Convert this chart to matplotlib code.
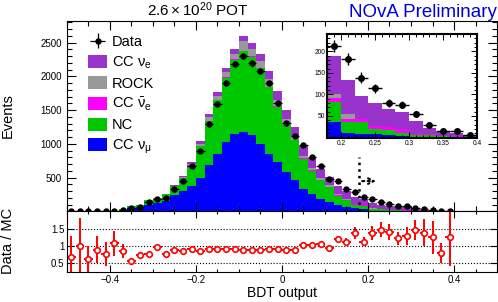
import numpy as np
import matplotlib
matplotlib.use('Agg')
import matplotlib.pyplot as plt
from matplotlib.ticker import MultipleLocator, FixedLocator, FuncFormatter

plt.rcParams['font.family'] = ['Liberation Sans', 'DejaVu Sans']
plt.rcParams['mathtext.fontset'] = 'custom'
plt.rcParams['mathtext.rm'] = 'Liberation Sans'
plt.rcParams['mathtext.it'] = 'Liberation Sans:italic'
plt.rcParams['mathtext.bf'] = 'Liberation Sans:bold'

# ---- data ----
# 45 bins of BDT output, 0.02 wide, from -0.50 to 0.40
bin_edges = np.linspace(-0.50, 0.40, 46)

cc_numu = [1, 1, 2, 2, 3, 4, 12, 45, 50, 89,
           120, 150, 240, 300, 375, 494, 693, 856, 1025, 1153,
           1170, 1128, 1004, 856, 732, 583, 460, 337, 263, 188,
           138, 89, 62, 45, 35, 11, 9, 7, 5, 3,
           2, 2, 1, 1, 0.5]
nc = [2, 1, 3, 4, 4, 4, 20, 35, 40, 78,
      70, 102, 132, 200, 305, 473, 643, 791, 958, 1096,
      1206, 1163, 1115, 988, 817, 698, 599, 442, 341, 276,
      222, 141, 105, 50, 47, 24, 27, 12, 12, 8,
      4, 3, 2, 1, 0.5]
cc_nuebar = [0, 0, 0, 0, 0, 0, 0, 0, 0, 0,
             0, 0, 1, 1, 2, 3, 4, 5, 5, 6,
             6, 6, 6, 6, 6, 6, 6, 6, 6, 6,
             7, 8, 9, 9, 10, 8, 6, 7, 8, 8,
             3, 3, 1, 1, 0.5]
rock = [0, 0, 0, 0, 0, 0, 1, 1, 1, 3,
        4, 5, 8, 14, 28, 30, 60, 63, 70, 75,
        140, 108, 110, 110, 100, 80, 50, 35, 30, 25,
        20, 17, 14, 11, 10, 11, 0, 0, 0, 0,
        0, 0, 0, 0, 0]
cc_nue = [0, 0, 0, 0, 0, 0, 0, 0, 1, 2,
          2, 3, 4, 10, 30, 40, 50, 55, 62, 70,
          78, 85, 100, 115, 125, 133, 140, 145, 145, 135,
          125, 115, 110, 95, 88, 79, 54, 55, 41, 41,
          30, 13, 9, 8, 3.5]
data = [2, 2, 3, 5, 5, 9, 28, 45, 68, 135,
        192, 200, 340, 455, 668, 895, 1288, 1592, 1908, 2186,
        2305, 2192, 2082, 1895, 1607, 1305, 1117, 985, 800, 668,
        488, 444, 340, 288, 212, 182, 139, 114, 80, 76,
        54, 30, 15, 14, 6]
ratio = [0.69, 1.00, 0.63, 0.90, 0.76, 1.08, 0.85, 0.56, 0.73, 0.78,
         0.98, 0.76, 0.88, 0.86, 0.91, 0.87, 0.91, 0.91, 0.91, 0.92,
         0.89, 0.89, 0.90, 0.92, 0.91, 0.88, 0.89, 1.02, 1.02, 1.06,
         0.95, 1.20, 1.13, 1.37, 1.13, 1.39, 1.47, 1.41, 1.22, 1.29,
         1.47, 1.39, 1.25, 0.80, 1.25]
ratio_err = [0.60, 0.80, 0.37, 0.40, 0.35, 0.37, 0.20, 0.05, 0.06, 0.05,
             0.05, 0.04, 0.03, 0.03, 0.03, 0.03, 0.03, 0.03, 0.03, 0.03,
             0.03, 0.03, 0.03, 0.03, 0.03, 0.03, 0.03, 0.03, 0.03, 0.03,
             0.05, 0.08, 0.11, 0.17, 0.12, 0.20, 0.22, 0.22, 0.20, 0.25,
             0.29, 0.40, 0.47, 0.30, 0.84]

cut_value = 0.18      # selection cut drawn as dotted line + arrow
cut_line_top = 800
cut_arrow_y = 450
cut_arrow_end = 0.225

# stacking order, bottom to top
stack = [
    (cc_numu, '#0000ff', r'CC $\mathrm{\nu_\mu}$'),
    (nc, '#00c800', 'NC'),
    (cc_nuebar, '#ff00ff', r'CC $\mathrm{\bar{\nu}_e}$'),
    (rock, '#999999', 'ROCK'),
    (cc_nue, '#9933cc', r'CC $\mathrm{\nu_e}$'),
]

centers = 0.5 * (bin_edges[1:] + bin_edges[:-1])
half_w = 0.5 * np.diff(bin_edges)
data = np.array(data, dtype=float)


def fmt(v, pos):
    s = f'{round(v, 3) + 0.0:g}'
    return s.replace('-', '\u2212')


def draw_stack(ax):
    handles = []
    base = np.zeros(len(centers))
    for vals, col, lab in stack:
        top = base + np.array(vals, dtype=float)
        h = ax.stairs(top, bin_edges, baseline=base, fill=True,
                      color=col, lw=0, label=lab)
        handles.append(h)
        base = top
    return handles


fig = plt.figure(figsize=(4.98, 3.02), dpi=100)
ax = fig.add_axes([0.1345, 0.2997, 0.8635, 0.6308])
ax_r = fig.add_axes([0.1345, 0.0993, 0.8635, 0.2004], sharex=ax)

# ---- main panel ----
hists = draw_stack(ax)
dat = ax.errorbar(centers, data, xerr=half_w, yerr=np.sqrt(data), fmt='o',
                  color='black', ms=3.6, elinewidth=0.9, capsize=0, label='Data')

ax.plot([cut_value, cut_value], [0, cut_line_top], ls=':', color='black', lw=1.8)
ax.annotate('', xy=(cut_arrow_end, cut_arrow_y), xytext=(cut_value, cut_arrow_y),
            arrowprops=dict(arrowstyle='->', ls=':', lw=1.5, color='black'))

ax.set_xlim(-0.5, 0.5)
ax.set_ylim(0, 2820)
ax.yaxis.set_major_locator(FixedLocator([500, 1000, 1500, 2000, 2500]))
ax.yaxis.set_minor_locator(MultipleLocator(100))
ax.xaxis.set_major_locator(MultipleLocator(0.2))
ax.xaxis.set_minor_locator(MultipleLocator(0.05))
ax.tick_params(which='both', direction='in', top=True, right=True, labelsize=7)
ax.tick_params(which='major', length=6.5, width=0.8)
ax.tick_params(which='minor', length=3.5, width=0.8)
ax.tick_params(axis='x', labelbottom=False)

legend_handles = [dat] + hists[::-1]
ax.legend(handles=legend_handles, loc='upper left', bbox_to_anchor=(0.049, 0.927),
          frameon=False, fontsize=10.5, handlelength=1.3, handleheight=1.0,
          labelspacing=0.35, handletextpad=0.35, borderpad=0, borderaxespad=0)

# ---- inset zoom on the selected region ----
ax_in = fig.add_axes([0.6574, 0.5447, 0.3004, 0.3427])
draw_stack(ax_in)
ax_in.errorbar(centers, data, xerr=half_w, yerr=np.sqrt(data), fmt='o',
               color='black', ms=4, elinewidth=1.0, capsize=0)
ax_in.set_xlim(0.18, 0.40)
ax_in.set_ylim(0, 240)
ax_in.xaxis.set_major_locator(MultipleLocator(0.05))
ax_in.xaxis.set_minor_locator(MultipleLocator(0.01))
ax_in.yaxis.set_major_locator(FixedLocator([50, 100, 150, 200]))
ax_in.yaxis.set_minor_locator(MultipleLocator(10))
ax_in.xaxis.set_major_formatter(FuncFormatter(fmt))
ax_in.tick_params(which='both', direction='in', top=True, right=True,
                  labelsize=4.8, pad=1.5)
ax_in.tick_params(which='major', length=4, width=0.7)
ax_in.tick_params(which='minor', length=2, width=0.7)
for sp in ax_in.spines.values():
    sp.set_linewidth(1.5)

# ---- ratio panel ----
for lvl in (0.5, 1.0, 1.5):
    ax_r.axhline(lvl, ls=':', color='black', lw=0.8)
ax_r.errorbar(centers, ratio, xerr=half_w, yerr=ratio_err, fmt='o',
              color='red', mfc='white', mec='red', ms=4, mew=1.2,
              elinewidth=1.4, capsize=0)
ax_r.set_ylim(0.25, 2.0)
ax_r.yaxis.set_major_locator(FixedLocator([0.5, 1.0, 1.5]))
ax_r.xaxis.set_major_formatter(FuncFormatter(fmt))
ax_r.yaxis.set_major_formatter(FuncFormatter(fmt))
ax_r.tick_params(which='both', direction='in', top=True, right=True,
                 labelsize=7, pad=2)
ax_r.tick_params(which='major', length=5, width=0.8)
ax_r.tick_params(which='minor', length=2.5, width=0.8)
ax_r.set_xlabel('BDT output', fontsize=10, labelpad=1)

fig.text(8 / 498, 1 - 116 / 302, 'Events', rotation=90, ha='center', va='center',
         fontsize=10.5)
fig.text(8 / 498, 1 - 241 / 302, 'Data / MC', rotation=90, ha='center', va='center',
         fontsize=10.5)
fig.text(198 / 498, 1 - 10 / 302, r'$2.6\times10^{20}$ POT', ha='center', va='center',
         fontsize=11)
fig.text(497 / 498, 1 - 17 / 302, 'NOvA Preliminary', ha='right', va='baseline',
         fontsize=13.5, color='#0000dd')

fig.savefig('out.png', dpi=100)
